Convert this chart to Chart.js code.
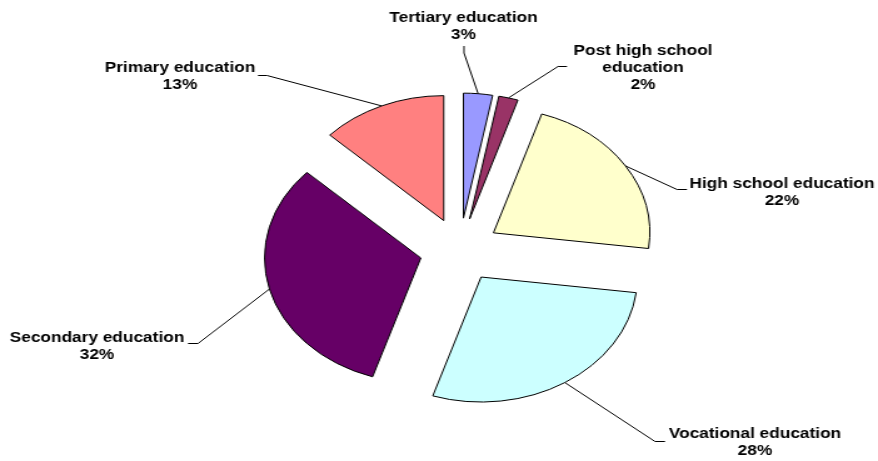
<!DOCTYPE html>
<html>
<head>
<meta charset="utf-8">
<title>Education structure</title>
<script src="https://cdn.jsdelivr.net/npm/chart.js@4/dist/chart.umd.min.js"></script>
<style>
  html, body { margin: 0; padding: 0; background: #fff; overflow: hidden; }
  /* the drawing is made on a narrower canvas and widened horizontally */
  #wrap { position: absolute; left: 0; top: 0; width: 702px; height: 461px;
          transform: scale(1.2507, 1); transform-origin: 0 0; }
  canvas { display: block; }
</style>
</head>
<body>
<div id="wrap"><canvas id="c" width="702" height="461"></canvas></div>
<script>
// Categories (multi-line where the label wraps), shares in percent, slice colours
const categories = [
  ['Tertiary education'],
  ['Post high school', 'education'],
  ['High school education'],
  ['Vocational education'],
  ['Secondary education'],
  ['Primary education']
];
const shares = [3, 2, 22, 28, 32, 13];
const sliceColors = ['#9999FF', '#993366', '#FFFFCC', '#CCFFFF', '#660066', '#FF8080'];

// Horizontal widening applied by CSS to the whole canvas
const SX = 1.2507;
// Distance every slice is pulled out from the centre
const EXPLODE = 32;
// Label layout in page pixels: text centre x, first baseline y, leader line start and elbow
const labelLayout = [
  { x: 463.5, y: 22,    path: [[464, 46], [464, 53]] },
  { x: 643,   y: 55,    path: [[567, 66.5], [558, 66.5]] },
  { x: 782,   y: 187.5, path: [[687, 189.5], [677, 189.5]] },
  { x: 755,   y: 438,   path: [[665, 441.5], [655, 441.5]] },
  { x: 97,    y: 341.5, path: [[188, 343.5], [198, 343.5]] },
  { x: 180,   y: 72,    path: [[258, 75.5], [267, 75.5]] }
];
const LINE_GAP = 17;

// Move each arc outward along its bisector
const explodePlugin = {
  id: 'explodeSlices',
  afterUpdate(chart) {
    const a = chart.chartArea;
    const cx = (a.left + a.right) / 2;
    const cy = (a.top + a.bottom) / 2;
    chart.getDatasetMeta(0).data.forEach(arc => {
      const mid = (arc.startAngle + arc.endAngle) / 2;
      arc.x = cx + Math.cos(mid) * EXPLODE;
      arc.y = cy + Math.sin(mid) * EXPLODE;
    });
  }
};

// Category name + percentage, joined to the slice by a leader line
const labelPlugin = {
  id: 'sliceLabels',
  afterDatasetsDraw(chart) {
    const ctx = chart.ctx;
    const meta = chart.getDatasetMeta(0);
    const total = shares.reduce((s, v) => s + v, 0);
    ctx.save();
    ctx.strokeStyle = '#000';
    ctx.lineWidth = 1;
    ctx.fillStyle = '#000';
    ctx.font = 'bold 13.8px "Liberation Sans", Arial, sans-serif';
    ctx.textAlign = 'center';
    ctx.textBaseline = 'alphabetic';
    meta.data.forEach((arc, i) => {
      const mid = (arc.startAngle + arc.endAngle) / 2;
      const ex = arc.x + Math.cos(mid) * arc.outerRadius;
      const ey = arc.y + Math.sin(mid) * arc.outerRadius;
      const L = labelLayout[i];
      ctx.beginPath();
      ctx.moveTo(L.path[0][0] / SX, L.path[0][1]);
      ctx.lineTo(L.path[1][0] / SX, L.path[1][1]);
      ctx.lineTo(ex, ey);
      ctx.stroke();
      const lines = [...categories[i], Math.round(shares[i] / total * 100) + '%'];
      lines.forEach((t, k) => ctx.fillText(t, L.x / SX, L.y + k * LINE_GAP));
    });
    ctx.restore();
  }
};

new Chart(document.getElementById('c'), {
  type: 'pie',
  data: {
    labels: categories,
    datasets: [{
      data: shares,
      backgroundColor: sliceColors,
      borderColor: '#000',
      borderWidth: 1,
      borderJoinStyle: 'miter'
    }]
  },
  options: {
    responsive: false,
    animation: false,
    events: [],
    radius: 125,
    layout: { padding: { left: 33, right: 0, top: 39, bottom: 0 } },
    plugins: {
      legend: { display: false },
      tooltip: { enabled: false }
    }
  },
  plugins: [explodePlugin, labelPlugin]
});
</script>
</body>
</html>
